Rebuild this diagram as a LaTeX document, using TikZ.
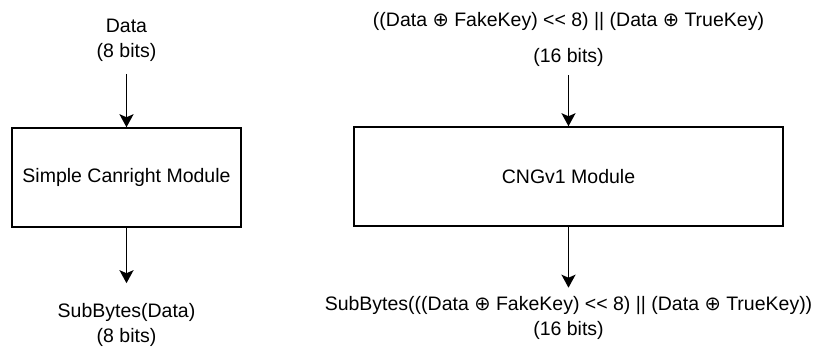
\documentclass[tikz,border=0pt]{standalone}
\usepackage{fontspec}
\setmainfont{Liberation Sans}
\newfontfamily\symfont{DejaVu Sans}
\usepackage{tikz}
\usetikzlibrary{arrows.meta}
\pgfdeclarelayer{edgelayer}
\pgfdeclarelayer{nodelayer}
\pgfsetlayers{edgelayer,nodelayer,main}
\newcommand{\xorop}{{\symfont ⊕}}
\newcommand{\shl}{{<}{<}}
\tikzstyle{module}=[rectangle, draw=black, line width=1.5pt, fill=white, minimum height=99pt]
\tikzstyle{sigtext}=[align=center, inner sep=0pt, font=\fontsize{19.5}{25}\selectfont]
\tikzstyle{flow}=[draw=black, line width=1.8pt, -{Stealth[length=13pt, width=14pt, inset=3pt]}]

\begin{document}
\begin{tikzpicture}[x=1pt, y=-1pt]
	\useasboundingbox (0, 0) rectangle (820, 347);
	\begin{pgfonlayer}{nodelayer}
		\node [style=sigtext] (datain) at (126.5, 40.5) {Data\\(8 bits)};
		\node [style=module, minimum width=229pt, style=sigtext] (canright) at (126.5, 177.5) {Simple Canright Module};
		\node [style=sigtext] (dataout) at (126.5, 325) {SubBytes(Data)\\(8 bits)};
		\node [style=sigtext] (keyin) at (568.5, 22) {((Data \xorop\ FakeKey) \shl\ 8) || (Data \xorop\ TrueKey)};
		\node [style=sigtext] (bitsin) at (568.5, 57) {(16 bits)};
		\node [style=module, minimum width=429pt, style=sigtext] (cngv) at (568.5, 176.5) {CNGv1 Module};
		\node [style=sigtext] (keyout) at (568.5, 317.5) {SubBytes(((Data \xorop\ FakeKey) \shl\ 8) || (Data \xorop\ TrueKey))\\(16 bits)};
	\end{pgfonlayer}
	\begin{pgfonlayer}{edgelayer}
		\draw [style=flow, shorten <=12pt] (datain) to (canright);
		\draw [style=flow, shorten >=20pt] (canright) to (dataout);
		\draw [style=flow, shorten <=9pt] (bitsin) to (cngv);
		\draw [style=flow, shorten >=8pt] (cngv) to (keyout);
	\end{pgfonlayer}
\end{tikzpicture}
\end{document}
